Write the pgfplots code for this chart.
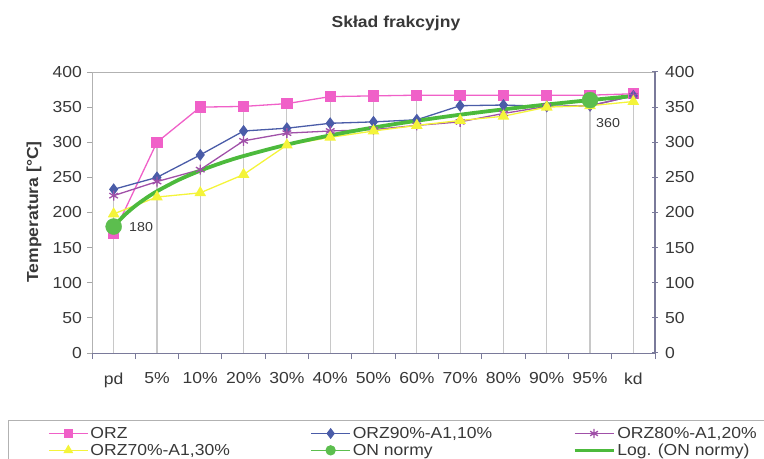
\documentclass[border=0pt]{standalone}
\usepackage{pgfplots}
\pgfplotsset{compat=1.18}
\usepackage{pgfplotstable}
\usepackage{fontspec}
\setmainfont{Liberation Sans}[FakeStretch=1.1]

\definecolor{cPink}{HTML}{F060C8}
\definecolor{cBlue}{HTML}{4A5CA8}
\definecolor{cPurp}{HTML}{A050A8}
\definecolor{cYel}{HTML}{F4F43A}
\definecolor{cGreen}{HTML}{5CBE4E}
\definecolor{cTrend}{HTML}{4CBA3C}
\definecolor{cAxis}{HTML}{7A7A9A}
\definecolor{cGrid}{HTML}{C8C8C8}
\definecolor{cText}{HTML}{383838}

\pgfplotstableread{
cat ORZ ORZ90 ORZ80 ORZ70 top
0 170 233 224 198 233
1 300 250 244 222 300
2 350 282 261 228 350
3 351 316 302 254 351
4 355 320 313 296 355
5 365 327 316 307 365
6 366 329 318 316 366
7 367 332 324 324 367
8 367 352 329 331 367
9 367 353 341 337 367
10 367 351 351 350 367
11 367 352 352 352 367
12 369 366 366 358 369
}\data

\pgfplotstableread{
x y
0 180
11 360
}\onnormy

\pgfplotstableread{
x y
0 180.0
0.25 196.2
0.5 209.4
0.75 220.5
1 230.2
1.5 246.4
2 259.6
2.5 270.8
3 280.4
4 296.6
5 309.8
6 321.0
7 330.6
8 339.2
9 346.8
10 353.7
11 360.0
12 365.8
}\trend

\pgfplotsset{LI/.style={legend image code/.code={\draw[mark repeat=2,mark phase=2] plot coordinates {(0bp,0bp) (19.5bp,0bp) (39bp,0bp)};}}}

\begin{document}
\begin{tikzpicture}
\path[use as bounding box] (0,0) rectangle (764bp,459bp);
\begin{axis}[
  at={(92bp,106bp)}, anchor=south west, scale only axis,
  width=563bp, height=281bp,
  xmin=-0.5, xmax=12.5, ymin=0, ymax=400,
  axis line style={draw=none},
  xtick={0,...,12},
  xticklabels={pd,5\%,10\%,20\%,30\%,40\%,50\%,60\%,70\%,80\%,90\%,95\%,kd},
  minor xtick={-0.5,0.5,...,12.5},
  xtick pos=bottom, ytick pos=left,
  tick align=outside,
  every major x tick/.append style={draw=none},
  every minor x tick/.append style={cAxis, line width=1bp},
  minor tick length=6bp,
  major tick length=5bp,
  ytick={0,50,...,400},
  every major y tick/.append style={gray!70, line width=1bp},
  tick label style={font=\fontsize{16}{18}\selectfont, text=cText},
  /pgf/number format/assume math mode=true,
  xticklabel style={yshift=-11bp},
  yticklabel style={xshift=-1.5bp},
  clip=false,
  legend columns=3,
  legend cell align=left,
  legend style={at={(-0.07815,-0.2633)}, anchor=north west, draw=none, fill=none,
    inner sep=0pt, font=\fontsize{16}{18}\selectfont, text=cText,
    nodes={inner sep=0pt},
    /tikz/every odd column/.append style={column sep=2bp},
    /tikz/row sep=4bp},
]
\addlegendimage{LI, cPink, line width=1.3bp, mark=square*, mark size=4bp, mark options={fill=cPink, draw=cPink}}
\addlegendentry{\makebox[220bp][l]{ORZ}}
\addlegendimage{LI, cBlue, line width=1.3bp, mark=diamond*, mark size=4.5bp, mark options={fill=cBlue, draw=cBlue}}
\addlegendentry{\makebox[220bp][l]{ORZ90\%-A1,10\%}}
\addlegendimage{LI, cPurp, line width=1.3bp, mark=asterisk, mark size=4.5bp, mark options={draw=cPurp}}
\addlegendentry{\makebox[220bp][l]{ORZ80\%-A1,20\%}}
\addlegendimage{LI, cYel, line width=1.3bp, mark=triangle*, mark size=4.5bp, mark options={fill=cYel, draw=cYel}}
\addlegendentry{\makebox[220bp][l]{ORZ70\%-A1,30\%}}
\addlegendimage{LI, cGreen, line width=1.3bp, mark=*, mark size=4.5bp, mark options={fill=cGreen, draw=cGreen}}
\addlegendentry{\makebox[220bp][l]{ON normy}}
\addlegendimage{LI, cTrend, line width=3.5bp}
\addlegendentry{\makebox[220bp][l]{Log. (ON normy)}}

\addplot[ycomb, cGrid, line width=1.2bp, mark=none, forget plot] table[x=cat, y=top]{\data};

\addplot[cPink, line width=1.3bp, mark=square*, mark size=5bp, mark options={fill=cPink, draw=cPink}, forget plot] table[x=cat, y=ORZ]{\data};
\addplot[cBlue, line width=1.3bp, mark=diamond*, mark size=5bp, mark options={fill=cBlue, draw=cBlue}, forget plot] table[x=cat, y=ORZ90]{\data};
\addplot[cPurp, line width=1.3bp, mark=asterisk, mark size=5bp, mark options={draw=cPurp, line width=1.3bp}, forget plot] table[x=cat, y=ORZ80]{\data};
\addplot[cYel, line width=1.3bp, mark=triangle*, mark size=5.5bp, mark options={fill=cYel, draw=cYel}, forget plot] table[x=cat, y=ORZ70]{\data};
\addplot[cTrend, line width=3.8bp, smooth, mark=none, forget plot] table[x=x, y=y]{\trend};
\addplot[only marks, mark=*, mark size=8bp, mark options={fill=cGreen, draw=cGreen}, forget plot] table[x=x, y=y]{\onnormy};

\node[anchor=west, font=\fontsize{13}{15}\selectfont, text=cText, xshift=12bp] at (axis cs:0,180) {180};
\node[font=\fontsize{13}{15}\selectfont, text=cText, xshift=18bp, yshift=-23bp] at (axis cs:11,360) {360};

\draw[gray!60, line width=1bp] (rel axis cs:0,0) -- (rel axis cs:0,1) -- (rel axis cs:1,1);
\draw[cAxis, line width=1bp] (rel axis cs:0,0) -- (rel axis cs:1,0);
\draw[cAxis, line width=1.2bp] (rel axis cs:1,0) -- (rel axis cs:1,1);
\end{axis}

\begin{axis}[
  at={(92bp,106bp)}, anchor=south west, scale only axis,
  width=563bp, height=281bp,
  xmin=-0.5, xmax=12.5, ymin=0, ymax=400,
  hide x axis, axis y line*=right,
  axis line style={draw=none},
  ytick={0,50,...,400},
  tick align=center, major tick length=6bp,
  every major y tick/.append style={cAxis, line width=1bp},
  tick label style={font=\fontsize{16}{18}\selectfont, text=cText},
  /pgf/number format/assume math mode=true,
  yticklabel style={xshift=3.5bp},
]
\addplot[draw=none, mark=none] coordinates {(0,0)};
\end{axis}

\node[font=\bfseries\fontsize{16}{18}\selectfont, text=cText] at (396bp,436bp) {Skład frakcyjny};
\node[rotate=90, font=\bfseries\fontsize{16}{18}\selectfont, text=cText] at (34bp,247bp) {Temperatura [°C]};
\draw[gray!60, line width=1bp] (8bp,-2bp) -- (8bp,38bp) -- (770bp,38bp);
\end{tikzpicture}
\end{document}
